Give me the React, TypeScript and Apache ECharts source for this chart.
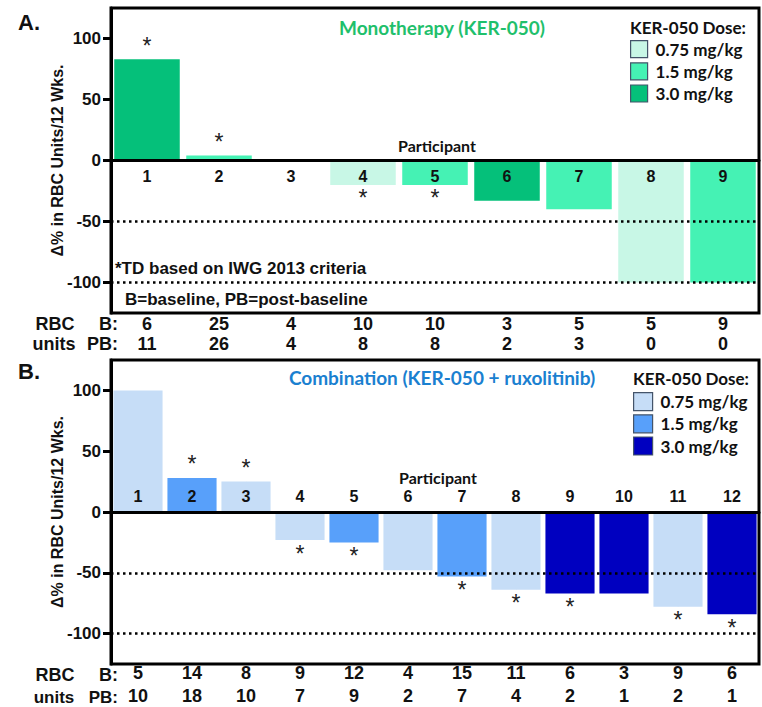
import React, { useEffect, useRef } from 'react';
import * as echarts from 'echarts';

// ---------- Data ----------
const doseLevels = ['0.75', '1.5', '3.0'];
const doseLabels = ['0.75 mg/kg', '1.5 mg/kg', '3.0 mg/kg'];

const participantsA = ['1', '2', '3', '4', '5', '6', '7', '8', '9'];
const changeA = [83, 4, 0, -20, -20, -33, -40, -100, -100];
const doseA = ['3.0', '1.5', '0.75', '0.75', '1.5', '3.0', '1.5', '0.75', '1.5'];
const tdA = [true, true, false, true, true, false, false, false, false];
const baselineA = [6, 25, 4, 10, 10, 3, 5, 5, 9];
const postBaselineA = [11, 26, 4, 8, 8, 2, 3, 0, 0];

const participantsB = ['1', '2', '3', '4', '5', '6', '7', '8', '9', '10', '11', '12'];
const changeB = [100, 28, 25, -23, -25, -48, -53, -64, -67, -67, -78, -84];
const doseB = ['0.75', '1.5', '0.75', '0.75', '1.5', '0.75', '1.5', '0.75', '3.0', '3.0', '0.75', '3.0'];
const tdB = [false, true, true, true, true, false, true, true, true, false, true, true];
const baselineB = [5, 14, 8, 9, 12, 4, 15, 11, 6, 3, 9, 6];
const postBaselineB = [10, 18, 10, 7, 9, 2, 7, 4, 2, 1, 2, 1];

const yTicks = [-100, -50, 0, 50, 100];
const refLines = [-50, -100];

const colorsA = ['#c8f7e6', '#45f2b4', '#05c07a'];
const colorsB = ['#c6ddf7', '#58a0fa', '#0000c0'];

const ARIAL = 'Liberation Sans, Arial, sans-serif';
const CAL = 'Lato, sans-serif';
const TXT = '#111';

function panelSeries(
  prefix: string, gi: number, cats: string[], values: number[], doses: string[], td: boolean[],
  colors: string[], labelsAbove: boolean
) {
  const bars = doseLevels.map((d, k) => ({
    type: 'bar',
    name: prefix + doseLabels[k],
    xAxisIndex: gi,
    yAxisIndex: gi,
    barGap: '-100%',
    barCategoryGap: '9%',
    itemStyle: { color: colors[k] },
    data: values.map((v, i) => (doses[i] === d ? v : '-')),
  }));
  const stars = {
    type: 'scatter',
    name: prefix + 'td',
    xAxisIndex: gi,
    yAxisIndex: gi,
    z: 5,
    symbolSize: 0.1,
    itemStyle: { color: '#222', opacity: 1 },
    label: {
      show: true,
      formatter: '*',
      fontSize: 23,
      fontFamily: ARIAL,
      color: '#222',
      opacity: 1,
      distance: 2,
    },
    data: values
      .map((v, i) =>
        td[i] ? { value: [i, v], label: { position: v >= 0 ? 'top' : 'bottom' } } : null
      )
      .filter(Boolean),
    markLine: {
      silent: true,
      symbol: 'none',
      label: { show: false },
      lineStyle: { color: '#000', width: 2.5, type: [2.5, 3.5] },
      data: refLines.map((y) => ({ yAxis: y })),
    },
  };
  const ids = {
    type: 'scatter',
    name: prefix + 'participant',
    xAxisIndex: gi,
    yAxisIndex: gi,
    z: 11,
    symbolSize: 0.1,
    itemStyle: { color: '#000', opacity: 1 },
    label: {
      show: true,
      formatter: '{b}',
      position: labelsAbove ? 'top' : 'bottom',
      distance: labelsAbove ? 7 : 8,
      fontSize: 16,
      fontWeight: 'bold',
      fontFamily: ARIAL,
      color: TXT,
      opacity: 1,
    },
    data: cats.map((c, i) => ({ name: c, value: [i, 0] })),
  };
  return [...bars, stars, ids];
}

function mainX(gi: number, cats: string[]) {
  return {
    type: 'category',
    gridIndex: gi,
    data: cats,
    z: 10,
    axisLine: { show: true, onZero: true, lineStyle: { color: '#000', width: 3 } },
    axisTick: { show: false },
    axisLabel: { show: false },
  };
}

function tableX(gi: number, cats: string[], b: number[], pb: number[], lh: number, margin: number) {
  return {
    type: 'category',
    gridIndex: gi,
    data: cats,
    axisLine: { show: false },
    axisTick: { show: false },
    axisLabel: {
      margin,
      interval: 0,
      fontSize: 18,
      fontWeight: 'bold',
      fontFamily: ARIAL,
      color: TXT,
      lineHeight: lh,
      formatter: (_v: string, i: number) => `${b[i]}\n${pb[i]}`,
    },
  };
}

function mainY(gi: number) {
  return {
    type: 'value',
    gridIndex: gi,
    min: -125,
    max: 125,
    splitLine: { show: false },
    axisLine: { show: true, lineStyle: { color: '#000', width: 3 } },
    axisTick: { show: true, length: 8, customValues: yTicks, lineStyle: { color: '#000', width: 3 } },
    axisLabel: {
      customValues: yTicks,
      margin: 10,
      fontSize: 17,
      fontWeight: 'bold',
      fontFamily: ARIAL,
      color: TXT,
    },
    name: 'Δ% in RBC Units/12 Wks.',
    nameLocation: 'middle',
    nameGap: 46,
    nameMoveOverlap: false,
    nameTextStyle: { fontSize: 16, fontWeight: 'bold', fontFamily: ARIAL, color: TXT },
  };
}

function legendFor(prefix: string, left: number, top: number, w: number, h: number, gap: number) {
  return {
    data: doseLabels.map((l) => prefix + l),
    formatter: (n: string) => n.slice(prefix.length),
    orient: 'vertical',
    left,
    top,
    padding: 0,
    itemWidth: w,
    itemHeight: h,
    itemGap: gap,
    icon: 'rect',
    selectedMode: false,
    itemStyle: { borderColor: '#44546a', borderWidth: 1.2 },
    textStyle: { fontSize: 17, fontWeight: 'bold', fontFamily: CAL, color: TXT, padding: [0, 0, 0, 3] },
  };
}

function txt(text: string, x: number, y: number, font: string, align = 'left', fill = TXT) {
  return {
    type: 'text',
    x,
    y,
    style: { text, font, fill, textAlign: align, textVerticalAlign: 'middle' },
  };
}

export default function App() {
  const ref = useRef<HTMLDivElement>(null);
  useEffect(() => {
    document.body.style.margin = '0';
    const chart = echarts.init(ref.current!, undefined, { renderer: 'svg' });
    const option = {
      animation: false,
      backgroundColor: '#fff',
      grid: [
        { left: 111, right: 3, top: 8, height: 305, show: true, borderColor: '#000', borderWidth: 3, backgroundColor: 'transparent' },
        { left: 111, right: 3, top: 305, height: 1 },
        { left: 111, right: 3, top: 360, height: 304, show: true, borderColor: '#000', borderWidth: 3, backgroundColor: 'transparent' },
        { left: 111, right: 3, top: 655, height: 1 },
      ],
      xAxis: [
        mainX(0, participantsA),
        tableX(1, participantsA, baselineA, postBaselineA, 20, 8),
        mainX(2, participantsB),
        tableX(3, participantsB, baselineB, postBaselineB, 23, 6),
      ],
      yAxis: [
        mainY(0),
        { type: 'value', gridIndex: 1, show: false },
        mainY(2),
        { type: 'value', gridIndex: 3, show: false },
      ],
      legend: [legendFor('A|', 630, 40, 17, 17, 4), legendFor('B|', 633, 392, 19, 18, 3)],
      series: [
        ...panelSeries('A|', 0, participantsA, changeA, doseA, tdA, colorsA, false),
        ...panelSeries('B|', 2, participantsB, changeB, doseB, tdB, colorsB, true),
      ],
      graphic: [
        txt('A.', 18, 22, `bold 22px ${ARIAL}`),
        txt('Monotherapy (KER-050)', 442, 27, `bold 19px ${CAL}`, 'center', '#1fc06c'),
        txt('KER-050 Dose:', 630, 27, `bold 17px ${CAL}`),
        txt('Participant', 437, 145, `bold 16px ${CAL}`, 'center'),
        txt('*TD based on IWG 2013 criteria', 115, 268, `bold 17px ${ARIAL}`),
        txt('B=baseline, PB=post-baseline', 125, 299, `bold 17px ${ARIAL}`),
        txt('RBC', 55, 324, `bold 18px ${ARIAL}`, 'center'),
        txt('B:', 118, 324, `bold 18px ${ARIAL}`, 'right'),
        txt('units', 54, 344, `bold 18px ${ARIAL}`, 'center'),
        txt('PB:', 118, 344, `bold 18px ${ARIAL}`, 'right'),
        txt('B.', 18, 371, `bold 22px ${ARIAL}`),
        txt('Combination (KER-050 + ruxolitinib)', 442, 377, `bold 19px ${CAL}`, 'center', '#1a80d0'),
        txt('KER-050 Dose:', 633, 378, `bold 17px ${CAL}`),
        txt('Participant', 438, 477, `bold 16px ${CAL}`, 'center'),
        txt('RBC', 55, 675, `bold 18px ${ARIAL}`, 'center'),
        txt('B:', 118, 675, `bold 18px ${ARIAL}`, 'right'),
        txt('units', 54, 697, `bold 17px ${ARIAL}`, 'center'),
        txt('PB:', 118, 697, `bold 17px ${ARIAL}`, 'right'),
      ],
    };
    chart.setOption(option as any);
    return () => chart.dispose();
  }, []);
  return <div ref={ref} style={{ width: 762, height: 707 }} />;
}
